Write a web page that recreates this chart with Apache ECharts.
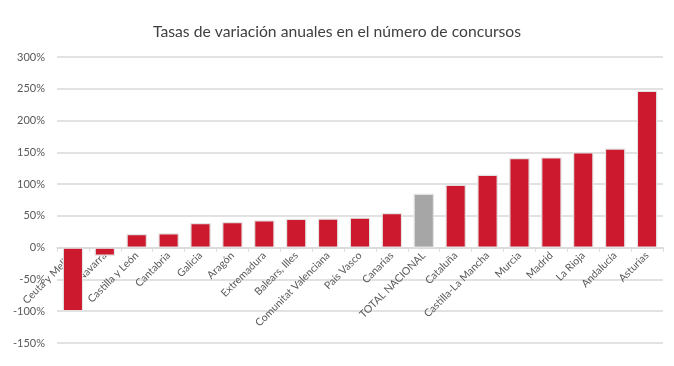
<!DOCTYPE html>
<html><head><meta charset="utf-8">
<script src="https://cdn.jsdelivr.net/npm/echarts@6/dist/echarts.min.js"></script>
<style>html,body{margin:0;padding:0;background:#fff}#c{width:674px;height:366px}</style>
</head><body><div id="c"></div>
<script>
const categories = ["Ceuta y Melilla","Navarra","Castilla y León","Cantabria","Galicia","Aragón","Extremadura","Balears, Illes","Comunitat Valenciana","País Vasco","Canarias","TOTAL NACIONAL","Cataluña","Castilla-La Mancha","Murcia","Madrid","La Rioja","Andalucía","Asturias"];
const values = [-100,-12.6,21.5,22.5,38.8,40.4,43,45.6,45.8,47.2,54.5,84.9,99,114.8,141,142,150,156,247];
const highlight = "TOTAL NACIONAL";
const yMin = -150, yMax = 300, yStep = 50;

const H = 366, gridBottom = 23;
const chart = echarts.init(document.getElementById('c'));
chart.setOption({
  animation:false,
  title:{text:'Tasas de variación anuales en el número de concursos',left:'center',top:19,
    textStyle:{fontFamily:'Lato',fontSize:15.7,fontWeight:'normal',color:'#404040'}},
  grid:{left:57,right:11,top:57,bottom:gridBottom,containLabel:false,outerBoundsMode:'none'},
  xAxis:{type:'category',data:categories,offset:0,
    axisLine:{onZero:false,lineStyle:{color:'#D9D9D9',width:1.5}},
    axisTick:{show:true,length:4,lineStyle:{color:'#D9D9D9'}},
    axisLabel:{rotate:45,interval:0,margin:6,hideOverlap:false,fontFamily:'Lato',fontSize:10.5,color:'#595959'}},
  yAxis:{type:'value',min:yMin,max:yMax,interval:yStep,
    axisLine:{show:false},axisTick:{show:false},
    axisLabel:{formatter:'{value}%',fontFamily:'Lato',fontSize:11,color:'#595959',margin:12},
    splitLine:{lineStyle:{color:'#D9D9D9',width:1.5}}},
  series:[{type:'bar',barWidth:'64%',
    data:values.map((v,i)=>({value:v,itemStyle:{color:categories[i]===highlight?'#A6A6A6':'#CD192D'}})),
    itemStyle:{borderColor:'#E3E3E3',borderWidth:1.2}}]
});
const zeroY = chart.convertToPixel({yAxisIndex:0}, 0);
chart.setOption({xAxis:{offset: zeroY - (H - gridBottom)}});
</script></body></html>
